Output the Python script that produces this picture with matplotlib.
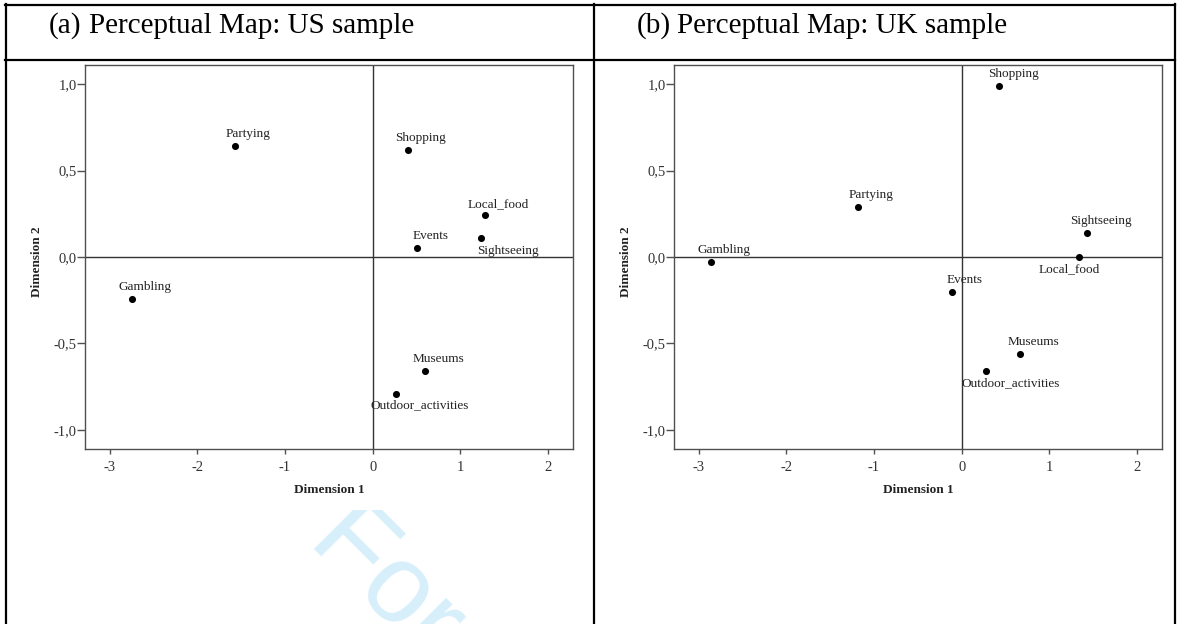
import matplotlib
matplotlib.use("Agg")
import matplotlib.pyplot as plt
from matplotlib.lines import Line2D
from matplotlib.patches import Rectangle

# ---------------- data ----------------
activities = ["Partying", "Shopping", "Local_food", "Events", "Sightseeing",
              "Gambling", "Museums", "Outdoor_activities"]

us_dim1 = [-1.57, 0.40, 1.28, 0.51, 1.24, -2.74, 0.60, 0.27]
us_dim2 = [0.64, 0.62, 0.24, 0.05, 0.11, -0.24, -0.66, -0.79]

uk_dim1 = [-1.18, 0.43, 1.34, -0.11, 1.43, -2.86, 0.67, 0.28]
uk_dim2 = [0.29, 0.99, 0.00, -0.20, 0.14, -0.03, -0.56, -0.66]

x_ticks = [-3, -2, -1, 0, 1, 2]
x_ticklabels = ["-3", "-2", "-1", "0", "1", "2"]
y_ticks = [1.0, 0.5, 0.0, -0.5, -1.0]
y_ticklabels = ["1,0", "0,5", "0,0", "-0,5", "-1,0"]

titles = ["Perceptual Map: US sample", "Perceptual Map: UK sample"]
panel_tags = ["(a)", "(b)"]
xlabel = "Dimension 1"
ylabel = "Dimension 2"
watermark = "For Peer Review"

# label offsets (pixels) -- layout only
us_offsets = {"Partying": (13, 12), "Shopping": (13, 12), "Local_food": (13, 11),
              "Events": (13, 12), "Sightseeing": (26, -13), "Gambling": (13, 12),
              "Museums": (13, 12), "Outdoor_activities": (23, -12)}
uk_offsets = {"Partying": (13, 12), "Shopping": (14, 12), "Local_food": (-10, -12),
              "Events": (13, 12), "Sightseeing": (14, 12), "Gambling": (13, 12),
              "Museums": (13, 12), "Outdoor_activities": (24, -12)}

W, H = 1180, 624
fig = plt.figure(figsize=(W / 100, H / 100), dpi=100)
fig.patch.set_facecolor("white")

serif = ["Liberation Serif", "DejaVu Serif"]

def fx(px):
    return px / W

def fy(py):
    return 1 - py / H

# watermark (partly hidden behind the chart image above y=510 px)
wm = fig.text(fx(307), fy(542), watermark, fontsize=80,
              family=["Liberation Sans", "DejaVu Sans"],
              color="#D6EFFB", rotation=-45, rotation_mode="anchor", ha="left",
              va="baseline", zorder=0)
clip_rect = Rectangle((0, 0), 1, fy(510), transform=fig.transFigure)
wm.set_clip_path(clip_rect)
wm.set_clip_on(True)

# table lines
lw_tab = 1.6
def hline(y, x0, x1):
    fig.add_artist(Line2D([fx(x0), fx(x1)], [fy(y), fy(y)], color="black", lw=lw_tab,
                          transform=fig.transFigure))

def vline(x, y0, y1):
    fig.add_artist(Line2D([fx(x), fx(x)], [fy(y0), fy(y1)], color="black", lw=lw_tab,
                          transform=fig.transFigure))

hline(5, 5, 1175)
hline(60, 5, 1175)
vline(5.5, 4, 624)
vline(593.5, 4, 624)
vline(1174.5, 4, 624)

# titles
for i, (tag, title) in enumerate(zip(panel_tags, titles)):
    x0 = 49 + i * 588
    fig.text(fx(x0), fy(33), tag, fontsize=21, family=serif, ha="left", va="baseline")
    fig.text(fx(x0 + 40), fy(33), title, fontsize=21, family=serif, ha="left", va="baseline")

axes_px = [(85, 65, 572.7, 449), (674, 65, 1161.7, 449)]
datasets = [(us_dim1, us_dim2, us_offsets), (uk_dim1, uk_dim2, uk_offsets)]

spine_col = "#505050"
for (l, t, r, b), (d1, d2, offs) in zip(axes_px, datasets):
    ax = fig.add_axes([fx(l), fy(b), fx(r) - fx(l), fy(t) - fy(b)])
    ax.set_xlim(-3.28, 2.28)
    ax.set_ylim(-1.11, 1.11)
    for s in ax.spines.values():
        s.set_color(spine_col)
        s.set_linewidth(1.0)
    ax.axhline(0, color="#333333", lw=1.0, zorder=1)
    ax.axvline(0, color="#333333", lw=1.0, zorder=1)
    ax.scatter(d1, d2, s=26, color="black", zorder=3, linewidths=0)
    for name, x, y in zip(activities, d1, d2):
        dx, dy = offs[name]
        ax.annotate(name, (x, y), xytext=(dx * 0.72, dy * 0.72), textcoords="offset points",
                    ha="center", va="center", fontsize=9.5, family=serif, color="#222222",
                    zorder=4)
    ax.set_xticks(x_ticks)
    ax.set_xticklabels(x_ticklabels, family=serif, fontsize=10.5, color="#333333")
    ax.set_yticks(y_ticks)
    ax.set_yticklabels(y_ticklabels, family=serif, fontsize=10.5, color="#333333")
    ax.tick_params(axis="x", direction="out", length=3.8, width=1.0, color=spine_col, pad=5)
    ax.tick_params(axis="y", direction="out", length=5.5, width=1.0, color=spine_col, pad=0.5)
    ax.set_xlabel(xlabel, family=serif, fontsize=9.5, fontweight="bold", color="#222222")
    ax.set_ylabel(ylabel, family=serif, fontsize=9.5, fontweight="bold", color="#222222")
    ax.xaxis.set_label_coords(0.5, -0.091)
    ax.yaxis.set_label_coords(-0.087, 0.488)

fig.savefig("out.png", dpi=100, facecolor="white")
